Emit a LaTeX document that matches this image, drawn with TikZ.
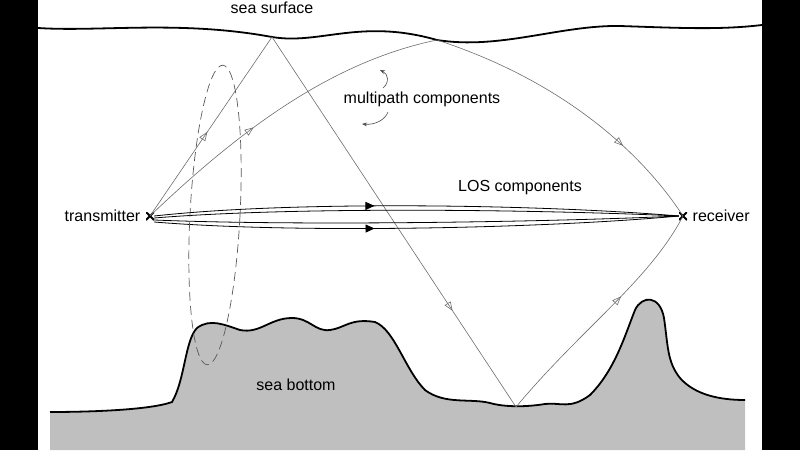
\documentclass[tikz,border=0pt]{standalone}
\usepackage{fontspec}
\setmainfont{Liberation Sans}
\usetikzlibrary{arrows.meta,positioning,decorations.markings}
\definecolor{seagray}{gray}{0.75}
\begin{document}
\begin{tikzpicture}[x=1pt,y=-1pt,
ray/.style={draw=gray!85!black,line width=0.6pt},
open/.style={ray,postaction={decorate},decoration={markings,
  mark=at position #1 with {\arrow[fill=white,draw=gray!85!black]{Triangle[open,length=9pt,width=7pt]}}}},
los/.style={draw=black,line width=0.8pt},
losarrow/.style={los,postaction={decorate},decoration={markings,
  mark=at position 0.42 with {\arrow{Triangle[length=9pt,width=8pt]}}}},
cross/.style={inner sep=0pt,minimum size=8pt,path picture={
  \draw[line width=1.8pt] (path picture bounding box.north west) -- (path picture bounding box.south east)
  (path picture bounding box.south west) -- (path picture bounding box.north east);}},
lbl/.style={font=\fontsize{16}{18}\selectfont}]

\useasboundingbox (0,0) rectangle (800,450);
\fill[black] (0,0) rectangle (38,450);
\fill[black] (762,0) rectangle (800,450);

% sea bottom
\fill[seagray] (50,450) -- (50,412)
 .. controls (90,412) and (150,410) .. (172,402)
 .. controls (185,380) and (185,340) .. (197,328)
 .. controls (210,318) and (225,325) .. (240,330)
 .. controls (260,334) and (270,318) .. (292,318)
 .. controls (310,318) and (315,332) .. (330,330)
 .. controls (345,328) and (350,318) .. (375,322)
 .. controls (395,330) and (405,370) .. (425,390)
 .. controls (445,405) and (470,398) .. (490,403)
 .. controls (500,406) and (520,408) .. (545,404)
 .. controls (560,402) and (570,410) .. (590,395)
 .. controls (615,370) and (625,335) .. (635,310)
 .. controls (642,295) and (660,295) .. (664,318)
 .. controls (668,345) and (667,362) .. (680,378)
 .. controls (695,395) and (720,400) .. (745,400) -- (745,450) -- cycle;
\draw[line width=1.8pt] (50,412)
 .. controls (90,412) and (150,410) .. (172,402)
 .. controls (185,380) and (185,340) .. (197,328)
 .. controls (210,318) and (225,325) .. (240,330)
 .. controls (260,334) and (270,318) .. (292,318)
 .. controls (310,318) and (315,332) .. (330,330)
 .. controls (345,328) and (350,318) .. (375,322)
 .. controls (395,330) and (405,370) .. (425,390)
 .. controls (445,405) and (470,398) .. (490,403)
 .. controls (500,406) and (520,408) .. (545,404)
 .. controls (560,402) and (570,410) .. (590,395)
 .. controls (615,370) and (625,335) .. (635,310)
 .. controls (642,295) and (660,295) .. (664,318)
 .. controls (668,345) and (667,362) .. (680,378)
 .. controls (695,395) and (720,400) .. (745,400);

% sea surface
\draw[line width=1.8pt] (38,28) .. controls (100,32) and (180,20) .. (272,37)
 .. controls (320,45) and (360,18) .. (437,40)
 .. controls (500,50) and (560,25) .. (620,26)
 .. controls (680,28) and (720,30) .. (762,25);

\coordinate (s1) at (272,37);
\coordinate (s2) at (437,40);
\coordinate (b1) at (516,407);
\node[cross] (tx) at (150,216) {};
\node[cross] (rx) at (683,216) {};

\node[lbl] (sealbl) at (272,8) {sea surface};
\node[lbl,left=2pt of tx] (txlbl) {transmitter};
\node[lbl,right=2pt of rx] (rxlbl) {receiver};
\node[lbl] (mplbl) at (422,99) {multipath components};
\node[lbl] (loslbl) at (520,188) {LOS components};
\node[lbl] (botlbl) at (296,385) {sea bottom};

% multipath rays
\draw[open=0.47] (tx.center) -- (s1);
\draw[open=0.74] (s1) -- (b1);
\draw[open=0.6] (b1) .. controls (580,330) and (650,280) .. (rx.center);
\draw[open=0.4] (tx.center) .. controls (250,120) and (340,60) .. (s2);
\draw[open=0.7] (s2) .. controls (560,80) and (640,150) .. (rx.center);

% LOS rays
\draw[losarrow] (tx.east) .. controls (300,200) and (550,205) .. (rx.west);
\draw[los] (tx.east) ++(0,2) .. controls (300,206) and (550,210) .. (rx.west);
\draw[los] (tx.east) ++(0,4) .. controls (300,226) and (550,222) .. (rx.west);
\draw[losarrow] (tx.east) ++(0,6) .. controls (300,234) and (550,228) .. (rx.west);

% pointers to multipath label
\draw[-{Stealth[length=5pt]},gray!60!black,line width=0.6pt] (383,88) .. controls (390,82) and (388,74) .. (380,70);
\draw[-{Stealth[length=5pt]},gray!60!black,line width=0.6pt] (388,112) .. controls (385,120) and (375,125) .. (362,124);

% dashed ellipse
\draw[dashed,gray!70!black,line width=0.7pt,dash pattern=on 9pt off 5pt,rotate around={-3:(215,215)}] (215,215) ellipse (25 and 150);
\end{tikzpicture}
\end{document}
